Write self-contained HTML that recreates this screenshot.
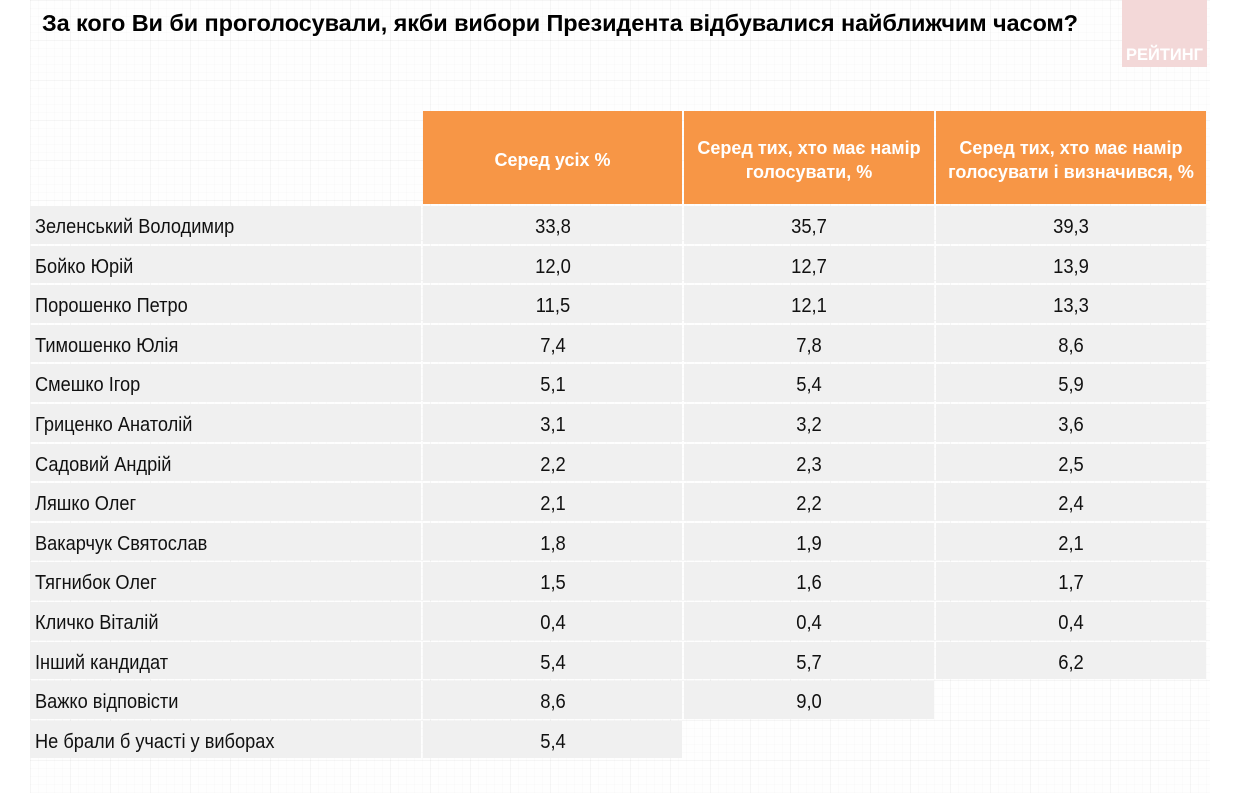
<!DOCTYPE html>
<html><head><meta charset="utf-8">
<style>
html,body{margin:0;padding:0;}
body{width:1235px;height:793px;position:relative;overflow:hidden;background:#fff;font-family:"Liberation Sans",Arial,sans-serif;}
.grid{position:absolute;left:30px;top:0;width:1180px;height:793px;
background-color:#fefefe;
background-image:
 linear-gradient(to right, rgba(0,0,0,0.022) 1px, transparent 1px),
 linear-gradient(to bottom, rgba(0,0,0,0.022) 1px, transparent 1px),
 linear-gradient(to right, rgba(0,0,0,0.012) 1px, transparent 1px),
 linear-gradient(to bottom, rgba(0,0,0,0.012) 1px, transparent 1px);
background-size:40px 40px,40px 40px,8px 8px,8px 8px;}
.title{position:absolute;left:42px;top:10px;font-size:23.5px;font-weight:bold;color:#000;white-space:nowrap;letter-spacing:-0.1px;}
.logo{position:absolute;left:1122px;top:0;width:85px;height:67px;background:#f3d8d8;}
.logo span{position:absolute;left:0;right:0;top:46px;text-align:center;color:#fff;font-weight:bold;font-size:16.5px;}
.h{position:absolute;top:113px;height:93px;color:#fff;font-weight:bold;font-size:18px;display:flex;align-items:center;justify-content:center;text-align:center;line-height:24px;}
.hb{position:absolute;top:111px;height:93px;background:#f79646;}
.c{position:absolute;height:37.6px;background:#f0f0f0;font-size:20px;color:#111;white-space:nowrap;}
.c span{position:absolute;top:10px;line-height:22px;display:inline-block;transform:scaleX(0.91);}
.n span{left:5px;transform-origin:0 50%;}
.v2 span,.v3 span,.v4 span{left:50%;transform:translateX(-50%) scaleX(0.92);}
.n{left:30px;width:391px;}
.v2{left:423px;width:259px;}
.v3{left:684px;width:250px;}
.v4{left:936px;width:270px;}
</style></head><body>
<div class="grid"></div>
<div class="title">За кого Ви би проголосували, якби вибори Президента відбувалися найближчим часом?</div>
<div class="logo"><span>РЕЙТИНГ</span></div>

<div class="hb" style="left:423px;width:259px;"></div>
<div class="hb" style="left:684px;width:250px;"></div>
<div class="hb" style="left:936px;width:270px;"></div>
<div class="h" style="left:423px;width:259px;">Серед усіх %</div>
<div class="h" style="left:684px;width:250px;">Серед тих, хто має намір<br>голосувати, %</div>
<div class="h" style="left:936px;width:270px;">Серед тих, хто має намір<br>голосувати і визначився, %</div>

<div class="c n" style="top:206px"><span>Зеленський Володимир</span></div><div class="c v2" style="top:206px"><span>33,8</span></div><div class="c v3" style="top:206px"><span>35,7</span></div><div class="c v4" style="top:206px"><span>39,3</span></div>
<div class="c n" style="top:245.6px"><span>Бойко Юрій</span></div><div class="c v2" style="top:245.6px"><span>12,0</span></div><div class="c v3" style="top:245.6px"><span>12,7</span></div><div class="c v4" style="top:245.6px"><span>13,9</span></div>
<div class="c n" style="top:285.2px"><span>Порошенко Петро</span></div><div class="c v2" style="top:285.2px"><span>11,5</span></div><div class="c v3" style="top:285.2px"><span>12,1</span></div><div class="c v4" style="top:285.2px"><span>13,3</span></div>
<div class="c n" style="top:324.8px"><span>Тимошенко Юлія</span></div><div class="c v2" style="top:324.8px"><span>7,4</span></div><div class="c v3" style="top:324.8px"><span>7,8</span></div><div class="c v4" style="top:324.8px"><span>8,6</span></div>
<div class="c n" style="top:364.4px"><span>Смешко Ігор</span></div><div class="c v2" style="top:364.4px"><span>5,1</span></div><div class="c v3" style="top:364.4px"><span>5,4</span></div><div class="c v4" style="top:364.4px"><span>5,9</span></div>
<div class="c n" style="top:404px"><span>Гриценко Анатолій</span></div><div class="c v2" style="top:404px"><span>3,1</span></div><div class="c v3" style="top:404px"><span>3,2</span></div><div class="c v4" style="top:404px"><span>3,6</span></div>
<div class="c n" style="top:443.6px"><span>Садовий Андрій</span></div><div class="c v2" style="top:443.6px"><span>2,2</span></div><div class="c v3" style="top:443.6px"><span>2,3</span></div><div class="c v4" style="top:443.6px"><span>2,5</span></div>
<div class="c n" style="top:483.2px"><span>Ляшко Олег</span></div><div class="c v2" style="top:483.2px"><span>2,1</span></div><div class="c v3" style="top:483.2px"><span>2,2</span></div><div class="c v4" style="top:483.2px"><span>2,4</span></div>
<div class="c n" style="top:522.8px"><span>Вакарчук Святослав</span></div><div class="c v2" style="top:522.8px"><span>1,8</span></div><div class="c v3" style="top:522.8px"><span>1,9</span></div><div class="c v4" style="top:522.8px"><span>2,1</span></div>
<div class="c n" style="top:562.4px"><span>Тягнибок Олег</span></div><div class="c v2" style="top:562.4px"><span>1,5</span></div><div class="c v3" style="top:562.4px"><span>1,6</span></div><div class="c v4" style="top:562.4px"><span>1,7</span></div>
<div class="c n" style="top:602px"><span>Кличко Віталій</span></div><div class="c v2" style="top:602px"><span>0,4</span></div><div class="c v3" style="top:602px"><span>0,4</span></div><div class="c v4" style="top:602px"><span>0,4</span></div>
<div class="c n" style="top:641.6px"><span>Інший кандидат</span></div><div class="c v2" style="top:641.6px"><span>5,4</span></div><div class="c v3" style="top:641.6px"><span>5,7</span></div><div class="c v4" style="top:641.6px"><span>6,2</span></div>
<div class="c n" style="top:681.2px"><span>Важко відповісти</span></div><div class="c v2" style="top:681.2px"><span>8,6</span></div><div class="c v3" style="top:681.2px"><span>9,0</span></div>
<div class="c n" style="top:720.8px"><span>Не брали б участі у виборах</span></div><div class="c v2" style="top:720.8px"><span>5,4</span></div>
</body></html>
